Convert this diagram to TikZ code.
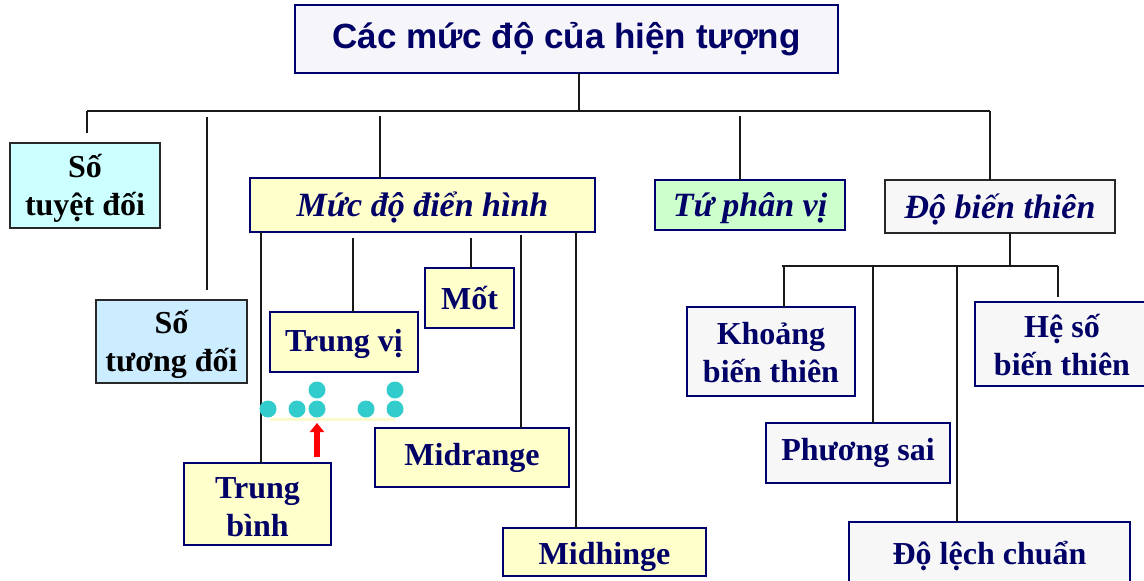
\documentclass[tikz,border=0pt]{standalone}
\usepackage{fontspec}
\setmainfont{Liberation Serif}
\newfontfamily\headfont{Liberation Sans}
\usetikzlibrary{arrows.meta}
\definecolor{navy}{RGB}{0,0,102}
\definecolor{edgenavy}{RGB}{0,0,110}
\definecolor{darkedge}{RGB}{40,40,40}
\definecolor{linec}{RGB}{25,25,25}
\definecolor{titlefill}{RGB}{246,246,250}
\definecolor{cyanfill}{RGB}{204,255,255}
\definecolor{bluefill}{RGB}{204,236,255}
\definecolor{yelfill}{RGB}{255,255,204}
\definecolor{grnfill}{RGB}{204,255,204}
\definecolor{gryfill}{RGB}{247,247,247}
\definecolor{dotc}{RGB}{51,204,204}
\definecolor{faint}{RGB}{250,250,205}
% centred block of lines, drawn #1 pt lower than its box
\newcommand{\lowered}[2]{\raisebox{-#1pt}[\height][\depth]{\begin{tabular}{@{}c@{}}#2\end{tabular}}}
\begin{document}
\begin{tikzpicture}[x=1pt,y=-1pt,
  sz/.style 2 args={minimum width=#1pt, minimum height=#2pt},
  box/.style={draw=edgenavy, line width=2.5pt, inner sep=0pt, outer sep=0pt,
    align=center, text=navy, font=\bfseries\fontsize{32}{38}\selectfont},
  ibox/.style={box, font=\bfseries\itshape\fontsize{34}{38}\selectfont},
  cbox/.style={box, draw=darkedge, text=black},
  ttl/.style={box, line width=2pt, fill=titlefill,
    font=\headfont\bfseries\fontsize{35}{40}\selectfont},
  conn/.style={draw=linec, line width=2.3pt},
  dot/.style={circle, fill=dotc, inner sep=0pt, minimum size=17pt}]
\clip (0,0) rectangle (1144,581);
\fill[white] (0,0) rectangle (1144,581);

% boxes
\node[ttl, sz={543}{68}] (title) at (566.5,39) {Các mức độ của hiện tượng};
\node[cbox, fill=cyanfill, sz={150}{85}] (stt) at (85,185.5) {\lowered{3}{Số\\tuyệt đối}};
\node[cbox, fill=bluefill, sz={151}{83}] (std) at (171.5,341.5) {\lowered{3}{Số\\tương đối}};
\node[ibox, fill=yelfill, sz={345}{54}] (mdh) at (422.5,205) {\lowered{4}{Mức độ điển hình}};
\node[ibox, fill=grnfill, sz={190}{50}] (tpv) at (750,205) {\lowered{4}{Tứ phân vị}};
\node[ibox, fill=gryfill, draw=darkedge, sz={230}{53}] (dbt) at (1000,206.5) {\lowered{4}{Độ biến thiên}};
\node[box, fill=yelfill, sz={148}{60}] (tv) at (344,342) {\lowered{2}{Trung vị}};
\node[box, fill=yelfill, sz={89}{60}] (mot) at (469.5,298) {Mốt};
\node[box, fill=yelfill, sz={194}{59}] (mr) at (472,457.5) {Midrange};
\node[box, fill=yelfill, sz={203}{48}] (mh) at (604.5,552) {\lowered{5}{Midhinge}};
\node[box, fill=yelfill, sz={147}{82}] (tb) at (257.5,504) {\lowered{6}{Trung\\bình}};
\node[box, fill=gryfill, sz={168}{89}] (kbt) at (771,351.5) {\lowered{4}{Khoảng\\biến thiên}};
\node[box, fill=gryfill, sz={184}{60}] (ps) at (858,453) {Phương sai};
\node[box, fill=gryfill, sz={281}{68}] (dlc) at (989.5,556) {Độ lệch chuẩn};
\node[box, fill=gryfill, sz={174}{84}] (hs) at (1062,344) {\lowered{5}{Hệ số\\biến thiên}};

% main bus under the title
\coordinate (busL) at (87,111);
\coordinate (busR) at (990,111);
\coordinate (tdrop) at (579,111);
\draw[conn] (busL) -- (busR);
\draw[conn] (tdrop) -- (tdrop |- title.south);
\coordinate (sttEnd) at (87,133);
\draw[conn] (busL) -- (sttEnd);
\coordinate (stdA) at (207,117);
\coordinate (stdB) at (207,290);
\draw[conn] (stdA) -- (stdB);
\coordinate (mdhA) at (380,116);
\draw[conn] (mdhA) -- (mdhA |- mdh.north);
\coordinate (tpvA) at (740,116);
\draw[conn] (tpvA) -- (tpvA |- tpv.north);
\draw[conn] (busR) -- (busR |- dbt.north);

% branches of the typical level
\coordinate (tbA) at (261,232);
\draw[conn] (tbA) -- (tbA |- tb.north);
\coordinate (tvA) at (353,238);
\draw[conn] (tvA) -- (tvA |- tv.north);
\coordinate (motA) at (471,238);
\draw[conn] (motA) -- (motA |- mot.north);
\coordinate (mrA) at (521,235);
\draw[conn] (mrA) -- (mrA |- mr.north);
\coordinate (mhA) at (576,232);
\draw[conn] (mhA) -- (mhA |- mh.north);

% branches of the variation
\coordinate (vdrop) at (1010,266);
\draw[conn] (vdrop |- dbt.south) -- (vdrop);
\coordinate (vbL) at (782,266);
\coordinate (vbR) at (1058,266);
\draw[conn] (vbL) -- (vbR);
\coordinate (kbtA) at (784,266);
\draw[conn] (kbtA) -- (kbtA |- kbt.north);
\coordinate (psA) at (873,266);
\draw[conn] (psA) -- (psA |- ps.north);
\coordinate (dlcA) at (957,266);
\draw[conn] (dlcA) -- (dlcA |- dlc.north);
\coordinate (hsEnd) at (1058,297);
\draw[conn] (vbR) -- (hsEnd);

% dot plot with the mean marker
\coordinate (axL) at (270,419);
\coordinate (axR) at (395,419);
\draw[faint, line width=3pt] (axL) -- (axR);
\node[dot] (d1) at (268,409) {};
\node[dot] (d2) at (297,409) {};
\node[dot] (d3) at (317,409) {};
\node[dot] (d4) at (317,390) {};
\node[dot] (d5) at (366,409) {};
\node[dot] (d6) at (395,409) {};
\node[dot] (d7) at (395,390) {};
\coordinate (arrA) at (317,457);
\coordinate (arrB) at (317,423);
\draw[red, line width=6pt, -{Triangle[width=14pt,length=9pt]}] (arrA) -- (arrB);
\end{tikzpicture}
\end{document}
